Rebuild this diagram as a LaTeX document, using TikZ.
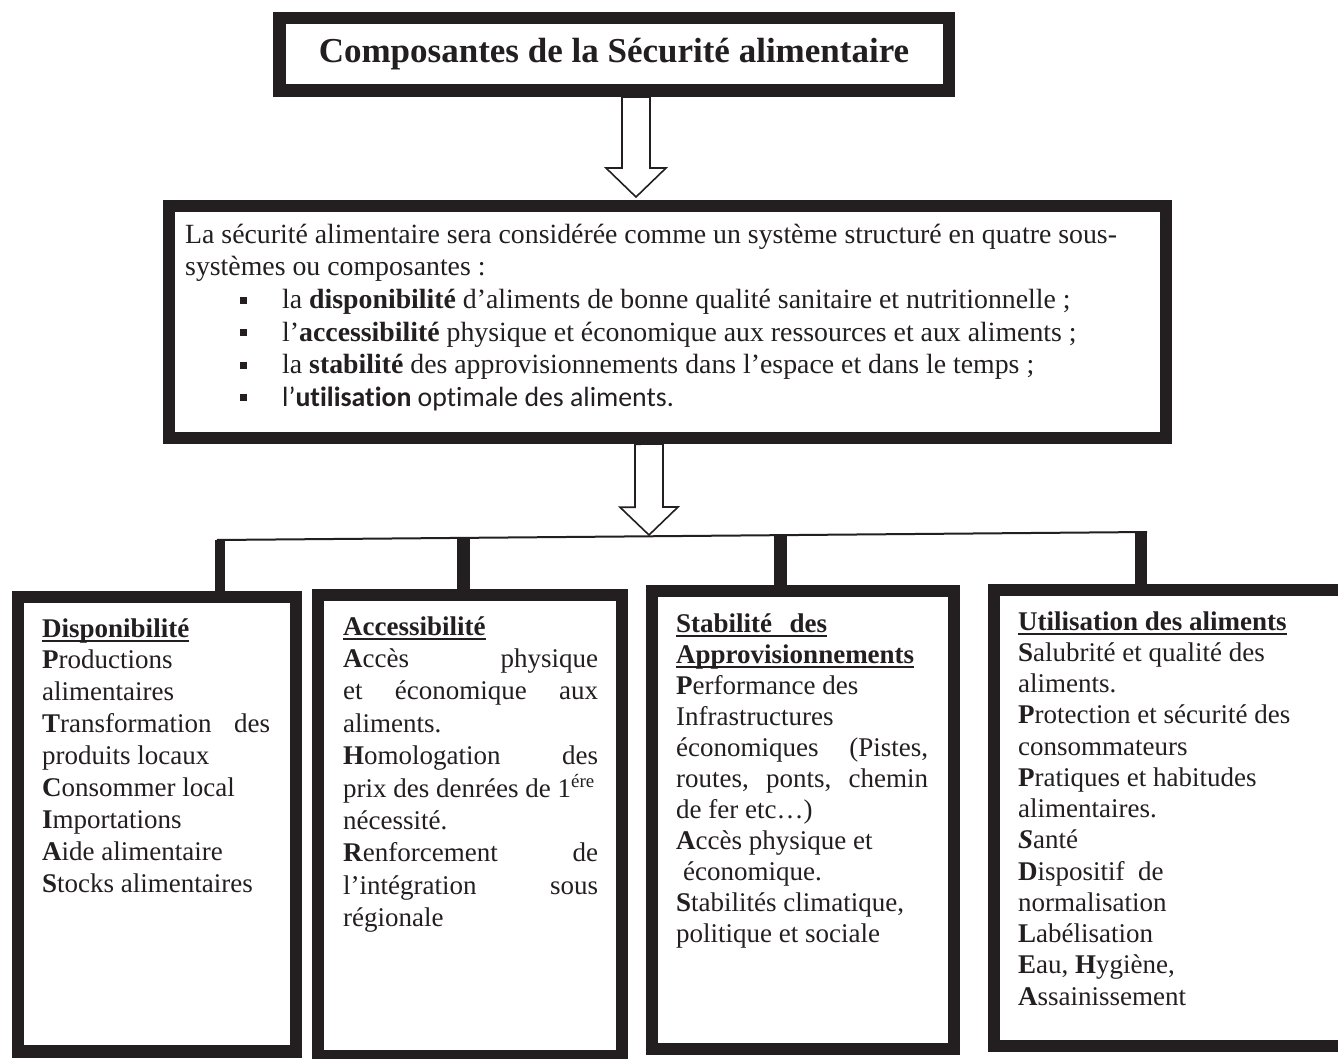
\documentclass[tikz,border=0pt]{standalone}
\usepackage{fontspec}
\setmainfont{Liberation Serif}
\newfontfamily\calibri[Ligatures={NoCommon}]{Carlito}
\usetikzlibrary{calc}
\definecolor{encre}{RGB}{35,31,32}
\newcommand\souligne[1]{\setbox0\hbox{#1}\rlap{\rule[-5pt]{\wd0}{2pt}}\box0}

\begin{document}
\begin{tikzpicture}[
		x=1pt, y=-1pt,
		every node/.style={inner sep=0pt, text=encre, font=\fontsize{27}{32}\selectfont},
		cadre/.style={draw=encre, line width=12.5pt, fill=white},
		fleche/.style={draw=encre, line width=1.6pt, fill=white},
		trait/.style={draw=encre, line width=#1},
		puce/.style={fill=encre, minimum size=7pt},
		ligne/.style={anchor=base west},
		texte/.style={ligne, font=\fontsize{27.8}{32}\selectfont}
		]
		\clip (0,0) rectangle (1338,1059);
		\fill[white] (0,0) rectangle (1338,1059);

		% titre et systeme
		\node[cadre, minimum width=669.5, minimum height=72.5,
			font=\fontsize{35}{40}\selectfont\bfseries] (titre) at (614,54.5)
			{Composantes de la Sécurité alimentaire};
		\node[cadre, minimum width=997, minimum height=232] (systeme) at (667.5,322) {};

		\node[texte] (t1) at (185,243.5) {La sécurité alimentaire sera considérée comme un système structuré en quatre sous-};
		\node[texte] (t2) at (185,276) {systèmes ou composantes :};
		\node[texte] (t3) at (282,308.5) {la \textbf{disponibilité} d’aliments de bonne qualité sanitaire et nutritionnelle ;};
		\node[texte] (t4) at (282,341) {l’\textbf{accessibilité} physique et économique aux ressources et aux aliments ;};
		\node[texte] (t5) at (282,373.5) {la \textbf{stabilité} des approvisionnements dans l’espace et dans le temps ;};
		\node[texte, font=\fontsize{27.8}{32}\calibri] (t6) at (282,406) {l’\textbf{utilisation} optimale des aliments.};
		\foreach \y [count=\i] in {308.5,341,373.5,406}
			\node[puce] (p\i) at (243.5,\y-8.5) {};

		% les quatre composantes
		\node[cadre, minimum width=278, minimum height=454.5] (dispo) at (157,824.25) {};
		\node[cadre, minimum width=304, minimum height=461] (acces) at (470,825.5) {};
		\node[cadre, minimum width=302, minimum height=458] (stab) at (803,820) {};
		\node[cadre, minimum width=356, minimum height=456] (util) at (1172,818) {};

		\foreach \t [count=\i from 0] in {
			{\souligne{\textbf{Disponibilité}}},
			{\textbf{P}roductions},
			{alimentaires},
			{\makebox[228pt][s]{\textbf{T}ransformation des}},
			{produits locaux},
			{\textbf{C}onsommer local},
			{\textbf{I}mportations},
			{\textbf{A}ide alimentaire},
			{\textbf{S}tocks alimentaires}}
			\node[ligne] (d\i) at (42,{637+31.9*\i}) {\t};

		\foreach \t [count=\i from 0] in {
			{\souligne{\textbf{Accessibilité}}},
			{\makebox[255pt][s]{\textbf{A}ccès physique}},
			{\makebox[255pt][s]{et économique aux}},
			{aliments.},
			{\makebox[255pt][s]{\textbf{H}omologation des}},
			{prix des denrées de 1\textsuperscript{ére}},
			{nécessité.},
			{\makebox[255pt][s]{\textbf{R}enforcement de}},
			{\makebox[255pt][s]{l’intégration sous}},
			{régionale}}
			\node[ligne] (a\i) at (343,{635+32.4*\i}) {\t};

		\foreach \t [count=\i from 0] in {
			{\souligne{\textbf{\makebox[151pt][s]{Stabilité des}}}},
			{\souligne{\textbf{Approvisionnements}}},
			{\textbf{P}erformance des},
			{Infrastructures},
			{\makebox[252pt][s]{économiques (Pistes,}},
			{\makebox[252pt][s]{routes, ponts, chemin}},
			{de fer etc…)},
			{\textbf{A}ccès physique et},
			{\hspace{7pt}économique.},
			{\textbf{S}tabilités climatique,},
			{politique et sociale}}
			\node[ligne] (s\i) at (676,{632+31*\i}) {\t};

		\foreach \t [count=\i from 0] in {
			{\souligne{\textbf{Utilisation des aliments}}},
			{\textbf{S}alubrité et qualité des},
			{aliments.},
			{\textbf{P}rotection et sécurité des},
			{consommateurs},
			{\textbf{P}ratiques et habitudes},
			{alimentaires.},
			{\textbf{\textit{S}}anté},
			{\textbf{D}ispositif\ \ de},
			{normalisation},
			{\textbf{L}abélisation},
			{\textbf{E}au, \textbf{H}ygiène,},
			{\textbf{A}ssainissement}}
			\node[ligne] (u\i) at (1018,{630+31.25*\i}) {\t};

		% fleches
		\coordinate (f1) at (636,197);
		\coordinate (f2) at (649,535);
		\draw[fleche] (titre.south -| f1) ++(-14,0) -- ++(0,71) -- ++(-16,0) -- (f1)
			-- ++(30,-29) -- ++(-16,0) -- ++(0,-71) -- cycle;
		\draw[fleche] (systeme.south -| f2) ++(-14,0) -- ++(0,63) -- ++(-15,0) -- (f2)
			-- ++(29,-28) -- ++(-15,0) -- ++(0,-63) -- cycle;

		% accolade
		\coordinate (h1) at (220,540);
		\coordinate (h2) at (463.5,539);
		\coordinate (h3) at (780,536);
		\coordinate (h4) at (1141,531);
		\draw[trait=2pt] (217,540) -- (1147,532);
		\draw[trait=10pt] (h1) -- (h1 |- dispo.north);
		\draw[trait=13pt] (h2) -- (h2 |- acces.north);
		\draw[trait=13pt] (h3) -- (h3 |- stab.north);
		\draw[trait=12pt] (h4) -- (h4 |- util.north);
	\end{tikzpicture}
\end{document}
